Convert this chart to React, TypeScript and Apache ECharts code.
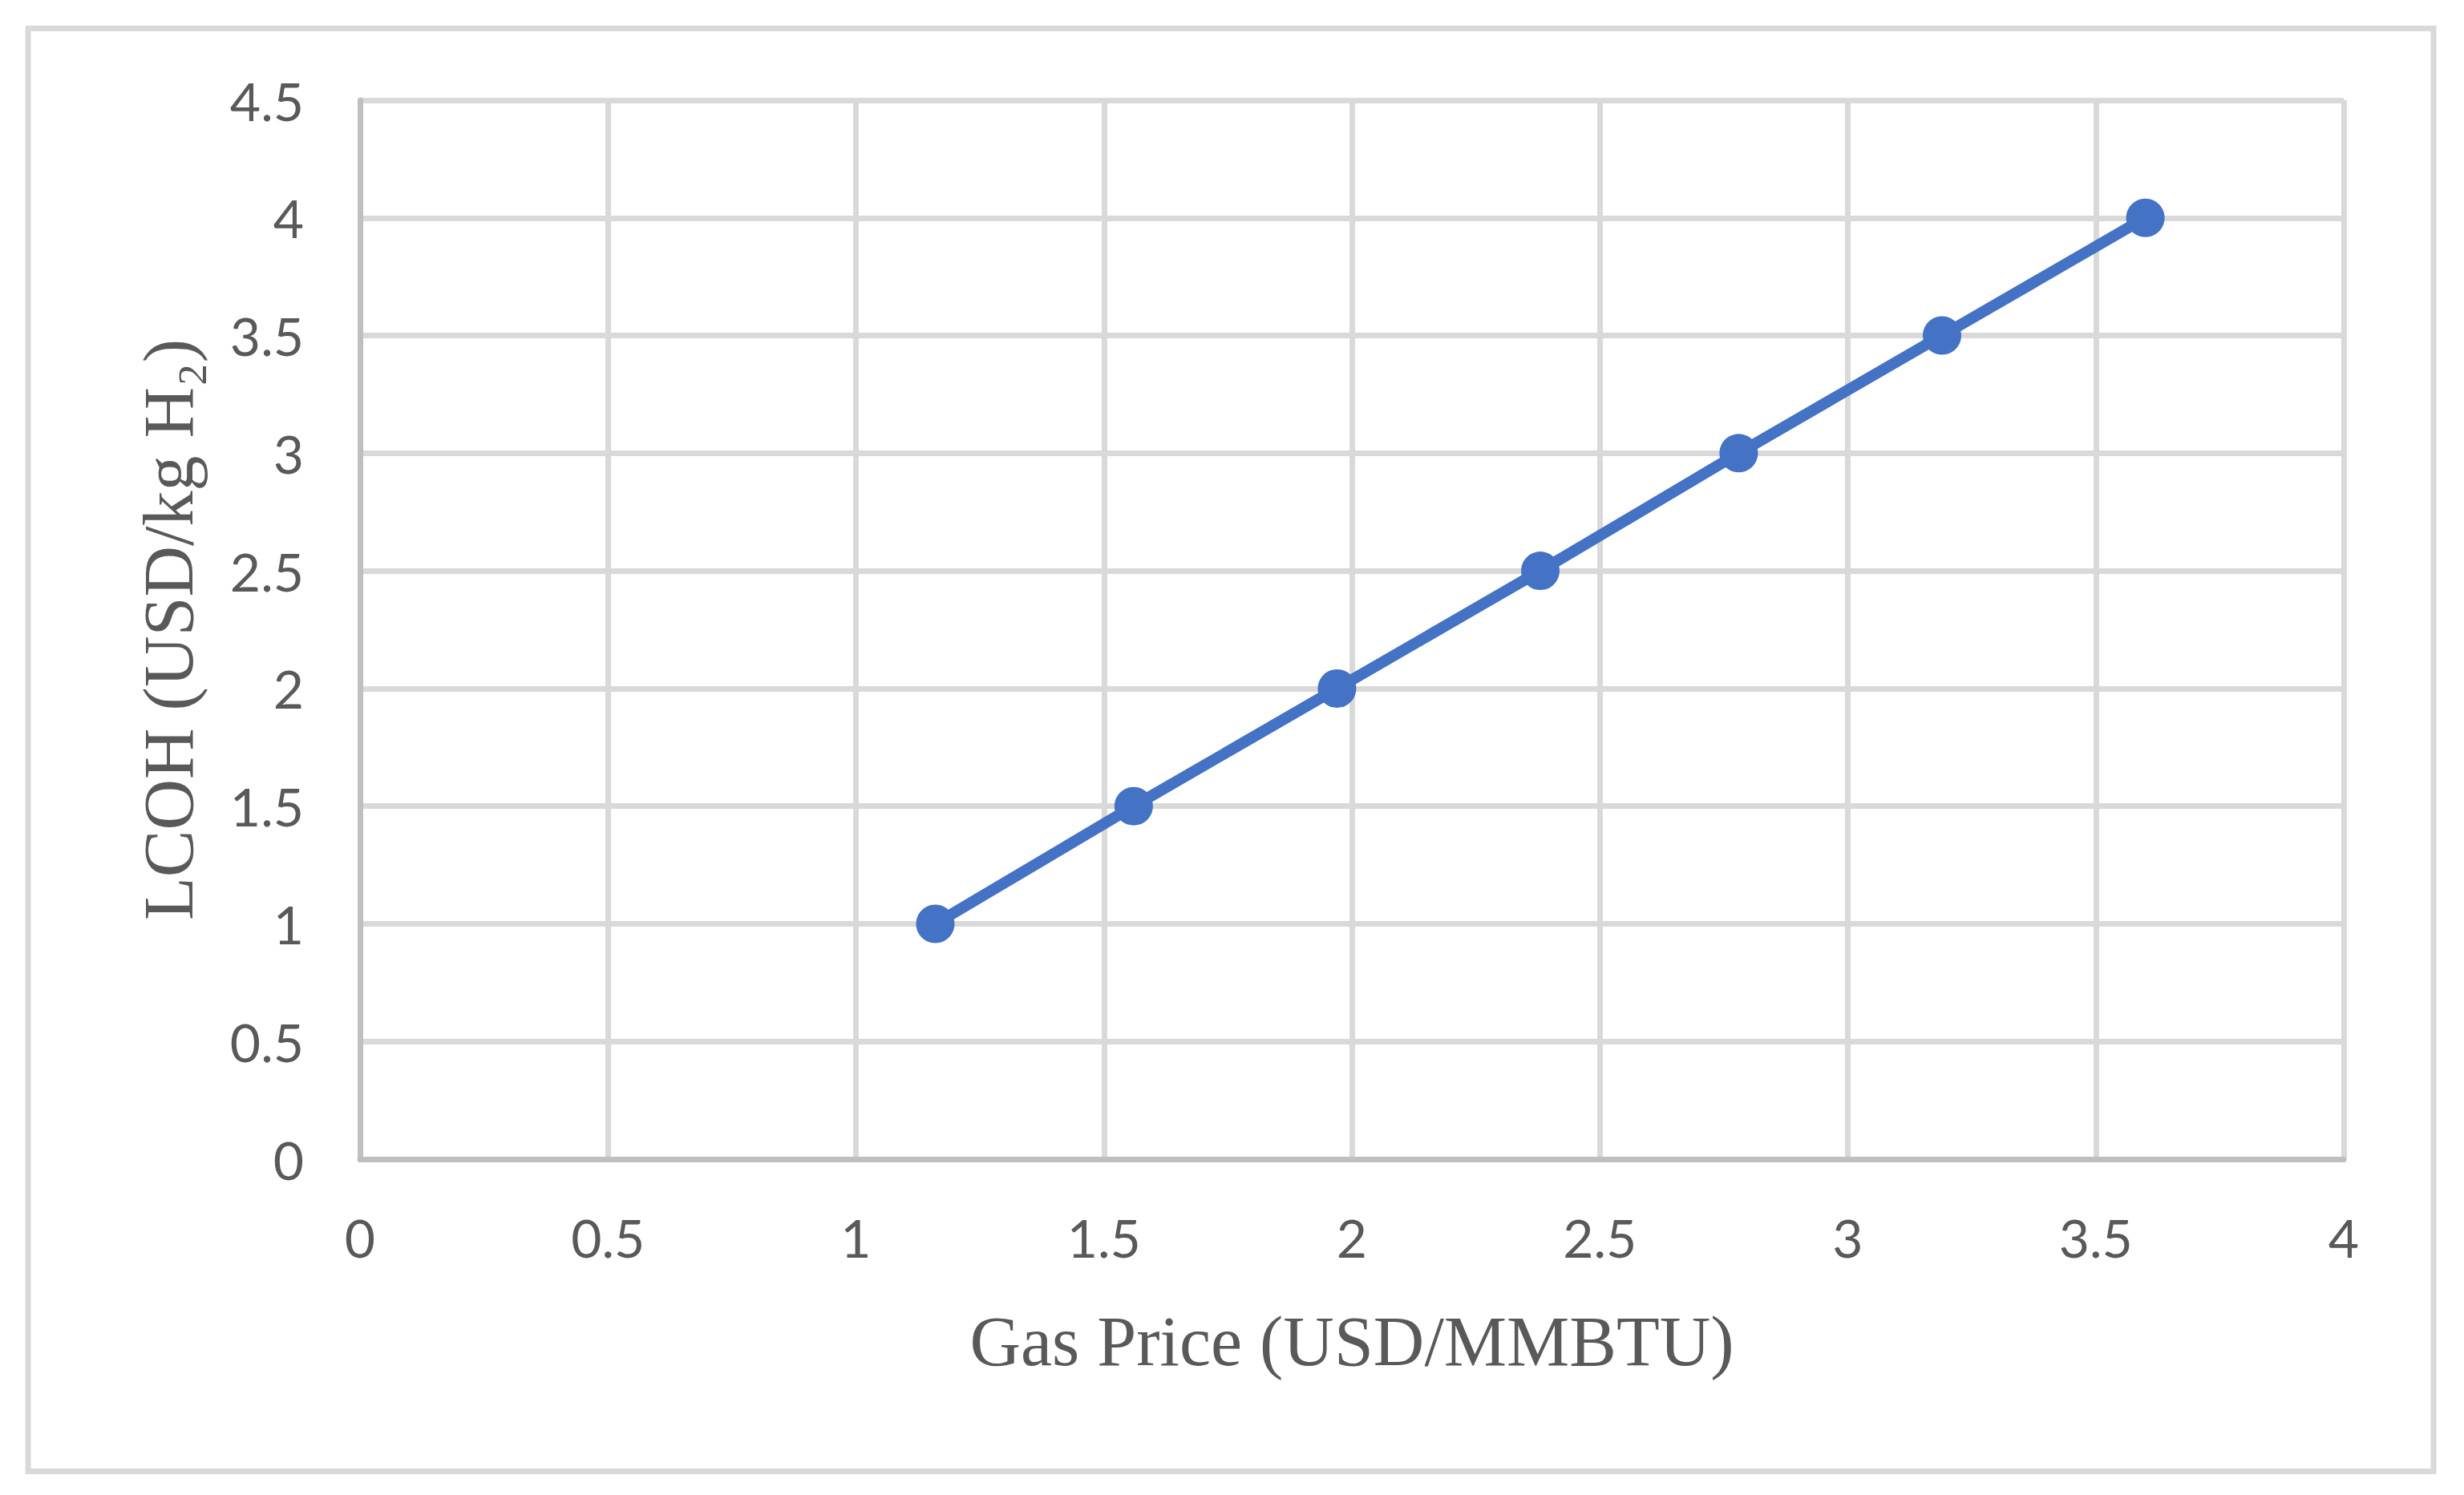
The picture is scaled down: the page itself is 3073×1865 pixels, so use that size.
import React, { useEffect, useRef } from "react";
import * as echarts from "echarts";

const gasPrice = [1.16, 1.56, 1.97, 2.38, 2.78, 3.19, 3.6];
const lcoh = [1, 1.5, 2, 2.5, 3, 3.5, 4];

const xAxisTitle = "Gas Price (USD/MMBTU)";
const yAxisTitle = "LCOH (USD/kg H₂)";

export default function App() {
  const ref = useRef<HTMLDivElement>(null);
  useEffect(() => {
    if (!ref.current) return;
    const chart = echarts.init(ref.current, null, { renderer: "svg" });
    const data = gasPrice.map((x, i) => [x, lcoh[i]]);
    chart.setOption({
      animation: false,
      backgroundColor: "#ffffff",
      grid: { left: 449, right: 150, top: 125, bottom: 419, containLabel: false },
      graphic: [
        {
          type: "rect",
          shape: { x: 35, y: 35.5, width: 3000, height: 1800 },
          style: { fill: "none", stroke: "#d9d9d9", lineWidth: 7 },
          silent: true,
        },
      ],
      xAxis: {
        type: "value",
        min: 0,
        max: 4,
        interval: 0.5,
        name: xAxisTitle,
        nameLocation: "middle",
        nameGap: 183,
        nameTextStyle: {
          fontFamily: "Liberation Serif",
          fontSize: 88,
          color: "#595959",
        },
        axisLine: { show: true, onZero: false, lineStyle: { color: "#bfbfbf", width: 7 } },
        axisTick: { show: false },
        axisLabel: {
          margin: 64,
          fontFamily: "Lato",
          fontSize: 66,
          color: "#595959",
        },
        splitLine: { show: true, lineStyle: { color: "#d9d9d9", width: 7 } },
      },
      yAxis: {
        type: "value",
        min: 0,
        max: 4.5,
        interval: 0.5,
        name: yAxisTitle,
        nameLocation: "middle",
        nameGap: 195,
        nameTextStyle: {
          fontFamily: "Liberation Serif",
          fontSize: 88,
          color: "#595959",
        },
        axisLine: { show: true, onZero: false, lineStyle: { color: "#bfbfbf", width: 7 } },
        axisTick: { show: false },
        axisLabel: {
          margin: 70,
          fontFamily: "Lato",
          fontSize: 66,
          color: "#595959",
        },
        splitLine: { show: true, lineStyle: { color: "#d9d9d9", width: 7 } },
      },
      series: [
        {
          type: "line",
          data,
          symbol: "circle",
          symbolSize: 48,
          lineStyle: { color: "#4472c4", width: 14 },
          itemStyle: { color: "#4472c4" },
          z: 5,
        },
      ],
    });
    return () => chart.dispose();
  }, []);
  return (
    <div
      ref={ref}
      style={{ position: "absolute", left: 0, top: 0, width: 3073, height: 1865 }}
    />
  );
}
